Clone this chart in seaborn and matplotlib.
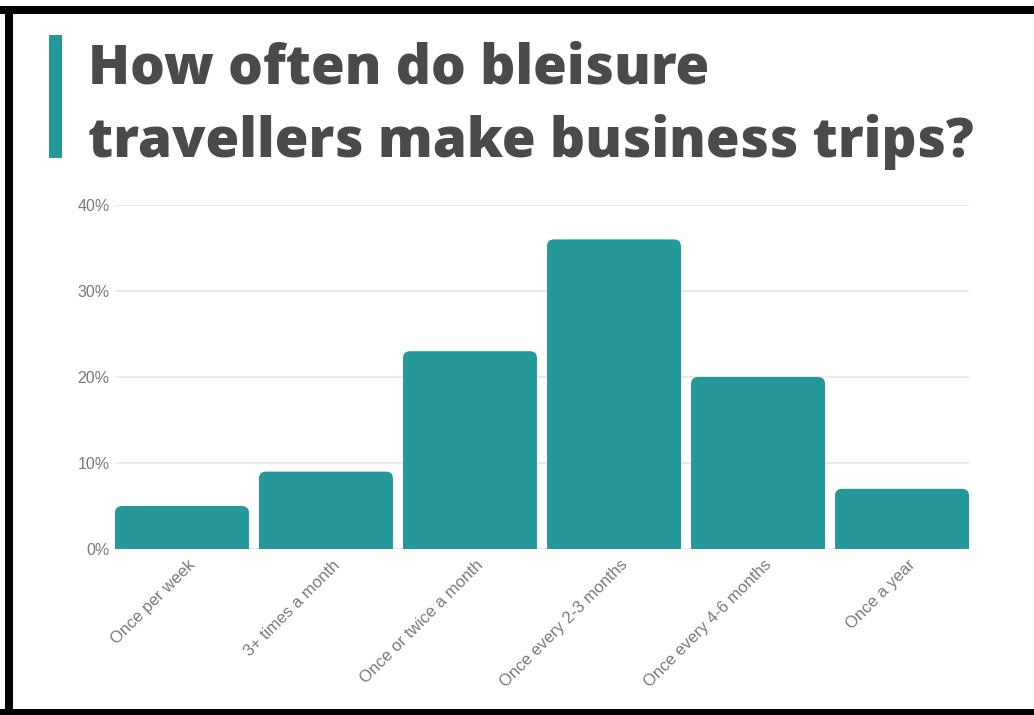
import matplotlib
matplotlib.use("Agg")
import matplotlib.pyplot as plt
import seaborn as sns
import pandas as pd
from matplotlib.patches import Rectangle, FancyBboxPatch
from matplotlib.ticker import FuncFormatter
from matplotlib.transforms import ScaledTranslation

categories = ["Once per week", "3+ times a month", "Once or twice a month",
              "Once every 2-3 months", "Once every 4-6 months", "Once a year"]
values = [5, 9, 23, 36, 20, 7]
yticks = [0, 10, 20, 30, 40]
title_lines = ["How often do bleisure", "travellers make business trips?"]

TEAL = "#26979a"
W, H = 1034, 715
BAR_W = 0.93

sns.set_theme(style="white")
plt.rcParams['font.family'] = ['Liberation Sans', 'DejaVu Sans']

fig = plt.figure(figsize=(W / 100, H / 100), dpi=100)
fig.patch.set_facecolor("white")
ax = fig.add_axes([115 / W, 1 - 549 / H, 854 / W, 344 / H])

df = pd.DataFrame({"cat": categories, "val": values})
sns.barplot(data=df, x="cat", y="val", color=TEAL, saturation=1, width=BAR_W, ax=ax, zorder=3)

ax.set_ylim(0, 40)
ax.set_xlim(-BAR_W / 2, len(categories) - 1 + BAR_W / 2)

# rounded tops derived from the seaborn bars
span = len(categories) - 1 + BAR_W
px_x = 854 / span
px_y = 344 / 40
r_px = 7
for p in list(ax.patches):
    x, w, h = p.get_x(), p.get_width(), p.get_height()
    rx = r_px / px_x
    ry = r_px / px_y
    fb = FancyBboxPatch((x + rx, -ry * 2), w - 2 * rx, h + ry,
                        boxstyle=f"round,pad={rx},rounding_size={rx}",
                        mutation_aspect=ry / rx,
                        facecolor=TEAL, edgecolor="none", zorder=3, clip_on=True)
    p.remove()
    ax.add_patch(fb)

ax.set_yticks(yticks)
ax.yaxis.set_major_formatter(FuncFormatter(lambda v, _: f"{int(v)}%"))
ax.grid(axis="y", color="#e6e6e6", linewidth=1.2, zorder=0)
ax.set_axisbelow(True)
for s in ax.spines.values():
    s.set_visible(False)
ax.set_xlabel("")
ax.set_ylabel("")
ax.tick_params(axis="y", length=0, pad=4, labelsize=11.5, labelcolor="#7a7a7a")
ax.tick_params(axis="x", length=0, pad=6, labelsize=12, labelcolor="#7a7a7a")
plt.setp(ax.get_xticklabels(), rotation=45, ha="right", rotation_mode="anchor")
off = ScaledTranslation(6 / 100, 0, fig.dpi_scale_trans)
for lab in ax.get_xticklabels():
    lab.set_transform(lab.get_transform() + off)

# title
for i, line in enumerate(title_lines):
    fig.text(88 / W, 1 - (83 + 74 * i) / H, line, fontsize=39.5, fontweight="heavy",
             color="#4a4a4a", ha="left", va="baseline",
             family=["Open Sans", "DejaVu Sans"])

# accent bar
fig.patches.append(Rectangle((49 / W, 1 - 158 / H), 13 / W, 123 / H,
                             transform=fig.transFigure, facecolor=TEAL, edgecolor="none"))

# black frame (top, bottom, left)
fig.patches.append(Rectangle((0, 1 - 14 / H), 1, 8 / H, transform=fig.transFigure,
                             facecolor="black", edgecolor="none"))
fig.patches.append(Rectangle((0, 0), 1, 6 / H, transform=fig.transFigure,
                             facecolor="black", edgecolor="none"))
fig.patches.append(Rectangle((5 / W, 0), 8 / W, 1 - 6 / H, transform=fig.transFigure,
                             facecolor="black", edgecolor="none"))

fig.savefig("out.png", dpi=100)
